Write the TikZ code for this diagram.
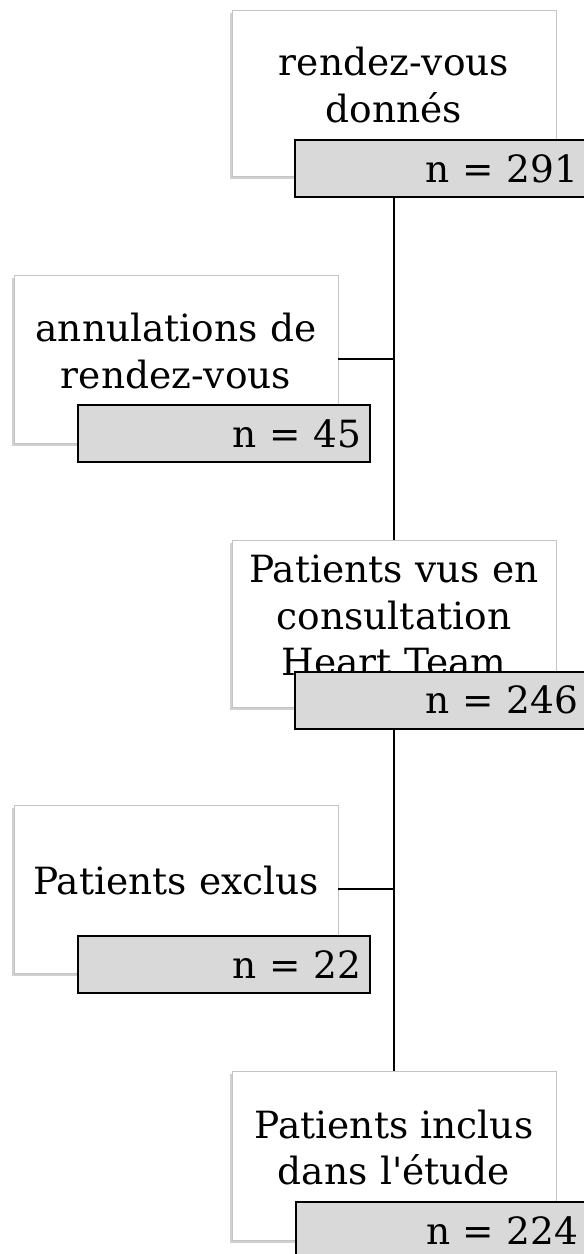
\documentclass[tikz,border=0pt]{standalone}
\usepackage{fontspec}
\setmainfont{DejaVu Serif}
\usetikzlibrary{positioning,shadows}

\definecolor{countgray}{HTML}{D9D9D9}
\definecolor{boxline}{HTML}{C4C4C4}
\newcommand{\stagepad}{\par\vspace*{16pt}}

\begin{document}
\begin{tikzpicture}[
    x=1pt, y=-1pt,
    stage/.style={draw=boxline, line width=0.8pt, fill=white,
        minimum width=324pt, text width=310pt, align=center, inner sep=0pt,
        font=\fontsize{37.5}{46.5}\selectfont,
        execute at end node=\stagepad,
        drop shadow={shadow xshift=-2pt, shadow yshift=-3pt, opacity=0.3, fill=black!60}},
    count/.style={draw=black, line width=2pt, fill=countgray,
        minimum width=292pt, minimum height=57pt, text width=274pt, align=right,
        inner xsep=9pt, inner ysep=0pt, font=\fontsize{37.5}{40}\selectfont},
    link/.style={draw=black, line width=2pt}
]
\useasboundingbox[fill=white] (0,0) rectangle (584,1254);

% Stage boxes, right column = main flow, left column = removed patients
\node[stage, minimum height=166pt] (given) at (394, 93) {rendez-vous\\donnés};
\node[stage, minimum height=168pt] (cancel) at (176, 359) {annulations de\\rendez-vous};
\node[stage, minimum height=167pt] (seen) at (394, 623.5) {Patients vus en\\consultation\\Heart Team};
\node[stage, minimum height=168pt] (excl) at (176, 889) {Patients exclus};
\node[stage, minimum height=169pt] (incl) at (394, 1155.5) {Patients inclus\\dans l\textquotesingle étude};

% Connectors (behind the count boxes)
\draw[link] (given.south) -- (seen.north);
\draw[link] (seen.south) -- (incl.north);
\draw[link] (cancel.east) -- (cancel.east -| given.south);
\draw[link] (excl.east) -- (excl.east -| seen.south);

% Counts
\node[count] (ngiven) at (441, 168.5) {n = 291};
\node[count] (ncancel) at (224, 433.5) {n = 45};
\node[count] (nseen) at (441, 700) {n = 246};
\node[count] (nexcl) at (224, 964.5) {n = 22};
\node[count] (nincl) at (441.5, 1230.5) {n = 224};

\end{tikzpicture}
\end{document}
